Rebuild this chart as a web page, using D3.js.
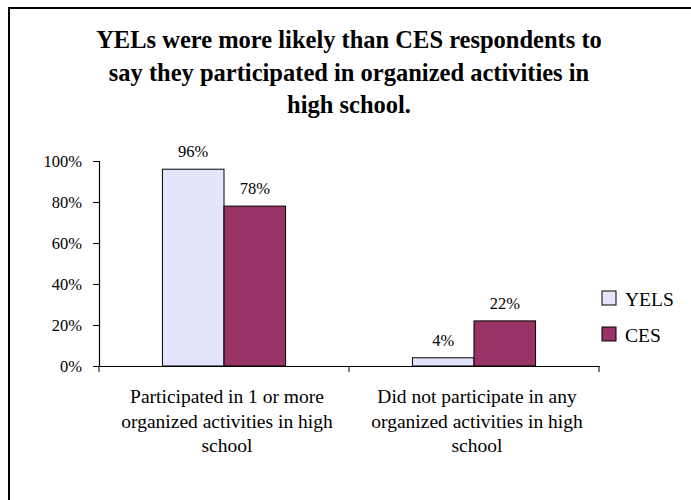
<!DOCTYPE html>
<html>
<head>
<meta charset="utf-8">
<script src="https://cdn.jsdelivr.net/npm/d3@7"></script>
<style>
  html, body { margin: 0; padding: 0; background: #fff; }
  svg { display: block; }
  svg text { font-family: "Liberation Serif", "Times New Roman", Tinos, Times, "DejaVu Serif", serif; fill: #000; }
</style>
</head>
<body>
<svg id="chart" width="691" height="500"></svg>
<script>
const titleLines = [
  "YELs were more likely than CES respondents to",
  "say they participated in organized activities in",
  "high school."
];
const categories = ["cat1", "cat2"];
const categoryLabels = [
  ["Participated in 1 or more", "organized activities in high", "school"],
  ["Did not participate in any", "organized activities in high", "school"]
];
const seriesNames = ["YELS", "CES"];
const yelsValues = [0.96, 0.04];
const cesValues = [0.78, 0.22];
const yTicks = [0, 0.2, 0.4, 0.6, 0.8, 1.0];
const colors = ["#E4E4FC", "#993366"];

const FONT = '"Liberation Serif", "Times New Roman", Tinos, Times, "DejaVu Serif", serif';
const svg = d3.select("#chart").attr("font-family", FONT);

// frame
svg.append("path")
  .attr("d", "M9,500 L9,8 L691,8")
  .attr("fill", "none").attr("stroke", "#000").attr("stroke-width", 2);

// title
svg.append("g").selectAll("text").data(titleLines).join("text")
  .attr("x", 349).attr("y", (d, i) => 48 + i * 32.5)
  .attr("text-anchor", "middle")
  .style("font-size", "24.5px").style("font-weight", "bold")
  .text(d => d);

const plot = { left: 99, right: 599, top: 161, bottom: 366 };
const x0 = d3.scaleBand().domain(categories).range([plot.left, plot.right]).paddingInner(0).paddingOuter(0);
const x1 = d3.scaleBand().domain(seriesNames).range([0, x0.bandwidth()]).paddingInner(0).paddingOuter(1.03);
const y = d3.scaleLinear().domain([0, 1]).range([plot.bottom, plot.top]);

const data = categories.map((c, i) => ({ cat: c, vals: [yelsValues[i], cesValues[i]] }));

// y axis
const yAxis = d3.axisLeft(y).tickValues(yTicks).tickFormat(d3.format(".0%")).tickSize(6).tickPadding(11);
const yg = svg.append("g").attr("transform", `translate(${plot.left},0)`).call(yAxis);
yg.attr("font-family", FONT);
yg.select(".domain").attr("stroke", "#000").attr("stroke-width", 1.2);
yg.selectAll(".tick line").attr("stroke", "#000");
yg.selectAll(".tick text").style("font-size", "16.5px").attr("fill", "#000");

// bars
const groups = svg.append("g").selectAll("g").data(data).join("g")
  .attr("transform", d => `translate(${x0(d.cat)},0)`);
groups.selectAll("rect").data(d => d.vals.map((v, j) => ({ s: seriesNames[j], v, j }))).join("rect")
  .attr("x", d => x1(d.s)).attr("width", x1.bandwidth())
  .attr("y", d => y(d.v)).attr("height", d => y(0) - y(d.v))
  .attr("fill", d => colors[d.j]).attr("stroke", "#000").attr("stroke-width", 1);
groups.selectAll("text.val").data(d => d.vals.map((v, j) => ({ s: seriesNames[j], v, j }))).join("text")
  .attr("class", "val")
  .attr("x", d => x1(d.s) + x1.bandwidth() / 2)
  .attr("y", d => y(d.v) - 12)
  .attr("text-anchor", "middle").style("font-size", "16.5px")
  .text(d => d3.format(".0%")(d.v));

// x axis
const xAxis = d3.axisBottom(x0).tickValues([]).tickSizeOuter(0);
const xg = svg.append("g").attr("transform", `translate(0,${plot.bottom})`).call(xAxis);
xg.select(".domain").attr("stroke", "#000").attr("stroke-width", 1.2);
const dividers = [plot.left, ...categories.map(c => x0(c) + x0.bandwidth())];
xg.selectAll("line.div").data(dividers).join("line").attr("class", "div")
  .attr("x1", d => d).attr("x2", d => d).attr("y1", 0).attr("y2", 6)
  .attr("stroke", "#000");

// category labels
const cl = svg.append("g").selectAll("text").data(categories).join("text")
  .attr("text-anchor", "middle").style("font-size", "19.5px")
  .attr("x", d => x0(d) + x0.bandwidth() / 2 + 3)
  .attr("y", 403);
cl.each(function(d, i) {
  d3.select(this).selectAll("tspan").data(categoryLabels[i]).join("tspan")
    .attr("x", x0(d) + x0.bandwidth() / 2 + 3)
    .attr("dy", (t, k) => k === 0 ? 0 : 24.5)
    .text(t => t);
});

// legend
const lg = svg.append("g").selectAll("g").data(seriesNames).join("g")
  .attr("transform", (d, i) => `translate(602,${291 + i * 36})`);
lg.append("rect").attr("width", 14).attr("height", 14)
  .attr("fill", (d, i) => colors[i]).attr("stroke", "#000").attr("stroke-width", 1);
lg.append("text").attr("x", 23).attr("y", 14.5).style("font-size", "19.5px").text(d => d);
</script>
</body>
</html>
